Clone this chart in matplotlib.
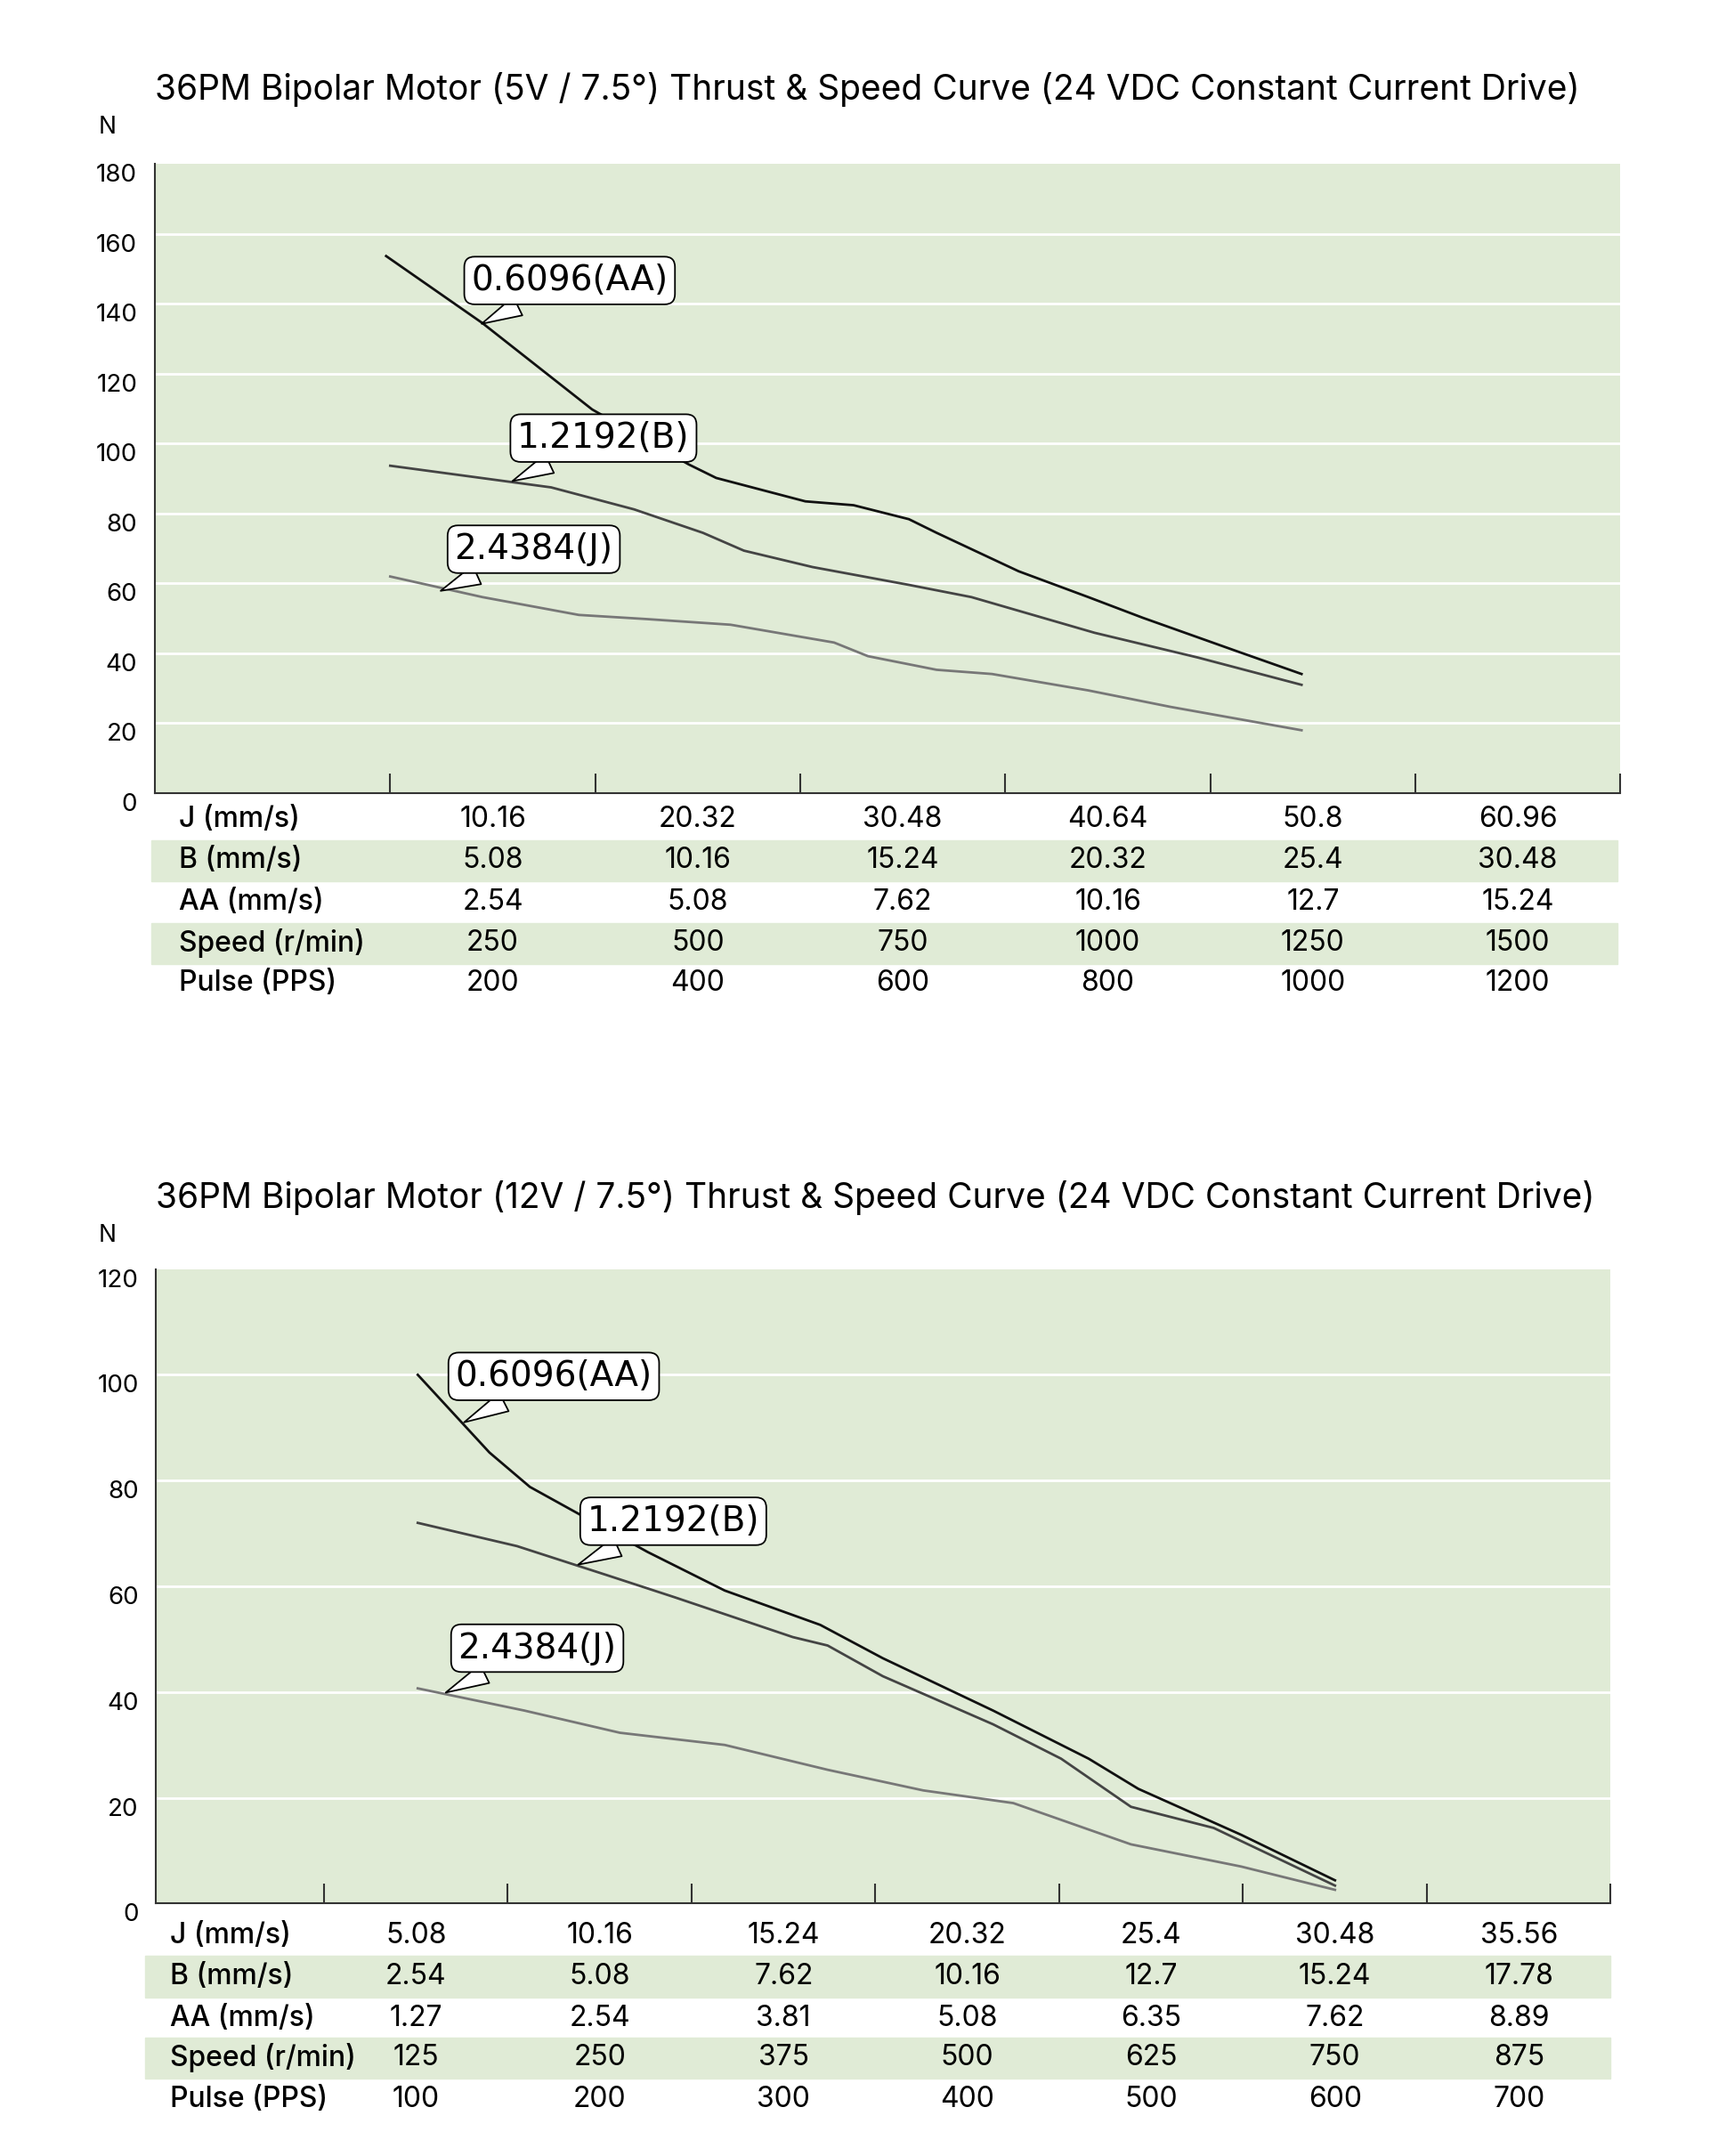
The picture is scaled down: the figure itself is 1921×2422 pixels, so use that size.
import matplotlib.pyplot as plt
from matplotlib.patches import Rectangle

plt.rcParams['font.family'] = ['Inter', 'DejaVu Sans']

GREEN = '#e0ebd6'

# ---- chart 1 (5V) ----
t1 = "36PM Bipolar Motor (5V / 7.5°) Thrust & Speed Curve (24 VDC Constant Current Drive)"
aa1_x = [196, 290, 397, 491, 518, 605, 652, 706, 733, 813, 881, 934, 1028, 1089]
aa1_y = [153.7, 134.5, 109.8, 94.1, 90.2, 83.5, 82.4, 78.4, 74.5, 63.5, 56.1, 50.2, 40.4, 34.1]
b1_x = [200, 357, 438, 505, 545, 612, 706, 767, 887, 988, 1089]
b1_y = [93.7, 87.5, 81.2, 74.5, 69.4, 64.7, 59.6, 56.1, 45.9, 38.8, 31.0]
j1_x = [200, 290, 384, 451, 532, 633, 666, 733, 787, 881, 961, 1089]
j1_y = [62, 56.1, 51, 49.8, 48.2, 43.1, 39.2, 35.3, 34.1, 29.4, 24.7, 18.0]
rows1 = ["J (mm/s)", "B (mm/s)", "AA (mm/s)", "Speed (r/min)", "Pulse (PPS)"]
table1 = [
    ["10.16", "20.32", "30.48", "40.64", "50.8", "60.96"],
    ["5.08", "10.16", "15.24", "20.32", "25.4", "30.48"],
    ["2.54", "5.08", "7.62", "10.16", "12.7", "15.24"],
    ["250", "500", "750", "1000", "1250", "1500"],
    ["200", "400", "600", "800", "1000", "1200"],
]
ticks1 = [200, 400, 600, 800, 1000, 1200, 1400]
cols1 = [300, 500, 700, 900, 1100, 1300]

# ---- chart 2 (12V) ----
t2 = "36PM Bipolar Motor (12V / 7.5°) Thrust & Speed Curve (24 VDC Constant Current Drive)"
aa2_x = [151, 190, 212, 276, 318, 370, 404, 464, 516, 543, 599, 650]
aa2_y = [100, 85.3, 78.8, 66.5, 59.2, 52.7, 46.4, 36.5, 27.4, 21.7, 13.0, 4.4]
b2_x = [151, 205, 254, 291, 355, 374, 404, 464, 501, 539, 584, 650]
b2_y = [72, 67.6, 62.1, 57.9, 50.4, 48.8, 43.0, 33.9, 27.4, 18.3, 14.3, 3.4]
j2_x = [151, 209, 261, 318, 374, 426, 475, 539, 599, 650]
j2_y = [40.7, 36.5, 32.3, 30.0, 25.3, 21.4, 19.0, 11.2, 7.0, 2.6]
rows2 = rows1
table2 = [
    ["5.08", "10.16", "15.24", "20.32", "25.4", "30.48", "35.56"],
    ["2.54", "5.08", "7.62", "10.16", "12.7", "15.24", "17.78"],
    ["1.27", "2.54", "3.81", "5.08", "6.35", "7.62", "8.89"],
    ["125", "250", "375", "500", "625", "750", "875"],
    ["100", "200", "300", "400", "500", "600", "700"],
]
ticks2 = [100, 200, 300, 400, 500, 600, 700, 800]
cols2 = [150, 250, 350, 450, 550, 650, 750]

W, H = 1240, 1563
fig = plt.figure(figsize=(19.21, 24.22), dpi=100)


def fx(x):
    return x / W


def fy(y):
    return 1 - y / H


def draw(rect, title, title_y, n_y, xlim, ymax, ystep, series, calls,
         ticks, cols, rows, table, row_ys, lab_x, band_x0, band_x1):
    l, t, r, b = rect
    ax = fig.add_axes([fx(l), fy(b), fx(r) - fx(l), fy(t) - fy(b)])
    ax.set_facecolor(GREEN)
    ax.set_xlim(*xlim)
    ax.set_ylim(0, ymax)
    for v in range(ystep, ymax, ystep):
        ax.axhline(v, color='white', lw=2, zorder=1)
    for s in ['top', 'right']:
        ax.spines[s].set_visible(False)
    for s in ['left', 'bottom']:
        ax.spines[s].set_color('#333333')
        ax.spines[s].set_linewidth(1.5)
    ax.set_yticks(range(0, ymax + 1, ystep))
    ax.set_yticklabels([str(v) for v in range(0, ymax + 1, ystep)], va='top')
    ax.tick_params(axis='y', length=0, labelsize=20, pad=14)
    ax.set_xticks(ticks)
    ax.set_xticklabels([])
    ax.tick_params(axis='x', direction='in', length=16, width=1.5, color='#333333')
    for xs, ys, c in series:
        ax.plot(xs, ys, color=c, lw=2, zorder=3)
    for txt, bx, by, tx, ty in calls:
        ax.annotate(txt, xy=(tx, ty), xytext=(bx, by), ha='center', va='center',
                    fontsize=28, family='DejaVu Sans', zorder=5,
                    bbox=dict(boxstyle='round,pad=0.2,rounding_size=0.3', fc='white', ec='black', lw=1.3),
                    arrowprops=dict(arrowstyle='wedge,tail_width=0.6,shrink_factor=0.5',
                                    fc='white', ec='black', lw=1.3))
    fig.text(fx(l), fy(title_y), title, fontsize=28, va='center', ha='left')
    fig.text(fx(78), fy(n_y), "N", fontsize=19, va='center', ha='center')
    x0, x1 = xlim
    rh = (row_ys[1] - row_ys[0])
    for i, (name, vals, ry) in enumerate(zip(rows, table, row_ys)):
        if i in (1, 3):
            fig.add_artist(Rectangle((fx(band_x0), fy(ry + rh / 2)), fx(band_x1) - fx(band_x0),
                                     rh / H, transform=fig.transFigure, color=GREEN, zorder=0))
        fig.text(fx(lab_x), fy(ry), name, fontsize=23, va='center', ha='left', weight='medium', zorder=2)
        for c, v in zip(cols, vals):
            xf = fx(l) + (c - x0) / (x1 - x0) * (fx(r) - fx(l))
            fig.text(xf, fy(ry), v, fontsize=23, va='center', ha='center', zorder=2)
    return ax


draw((112, 119, 1175, 575), t1, 65, 92, (-30, 1400), 180, 20,
     [(aa1_x, aa1_y, '#111111'), (b1_x, b1_y, '#444444'), (j1_x, j1_y, '#777777')],
     [("0.6096(AA)", 375, 146.7, 287, 134), ("1.2192(B)", 408, 101.6, 317, 89),
      ("2.4384(J)", 340, 69.8, 247, 57.6)],
     ticks1, cols1, rows1, table1, [594, 624, 654, 684, 713], 130, 110, 1173)

draw((113, 920, 1168, 1380), t2, 868, 896, (8.5, 800), 120, 20,
     [(aa2_x, aa2_y, '#111111'), (b2_x, b2_y, '#444444'), (j2_x, j2_y, '#777777')],
     [("0.6096(AA)", 225, 99.7, 175, 90.8), ("1.2192(B)", 290, 72.3, 237, 63.9),
      ("2.4384(J)", 216, 48.3, 165, 39.7)],
     ticks2, cols2, rows2, table2, [1403, 1433, 1463, 1492, 1522], 123, 105, 1168)

fig.savefig("out.png", dpi=100, facecolor='white')
